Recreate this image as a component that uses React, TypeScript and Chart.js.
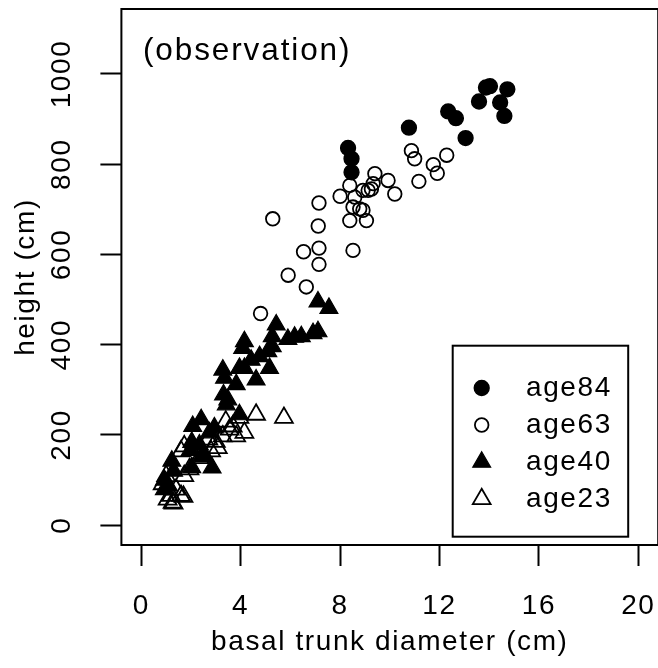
import React, { useEffect, useRef } from 'react';
import { Chart, registerables } from 'chart.js';
import { drawPoint } from 'chart.js/helpers';

Chart.register(...registerables);

// ---------------- data ----------------
const seriesNames = ['age84', 'age63', 'age40', 'age23'];

const age84Diameter = [8.32, 8.46, 8.46, 10.77, 12.35, 12.66, 13.05, 13.59, 13.87, 14.03, 14.73, 14.44, 14.61];
const age84Height = [836, 812, 782, 881, 917, 902, 858, 939, 970, 973, 966, 937, 907];

const age63Diameter = [5.29, 7.15, 7.12, 7.15, 6.53, 7.15, 5.91, 6.64, 4.8, 8.52, 8.39, 9.06, 8.0, 8.52, 8.79, 8.92, 8.39, 8.59, 8.92, 9.13, 9.26, 9.33, 9.4, 9.93, 10.2, 11.17, 10.87, 11.0, 11.75, 11.91, 12.29];
const age63Height = [679, 714, 663, 614, 606, 578, 554, 528, 469, 609, 675, 675, 729, 705, 701, 698, 753, 727, 742, 742, 745, 757, 779, 764, 734, 762, 830, 812, 799, 780, 820];

const age40Diameter = [7.11, 7.55, 7.11, 6.91, 6.44, 6.17, 5.9, 5.43, 5.27, 5.27, 5.09, 5.16, 4.76, 4.62, 4.15, 4.08, 4.42, 3.95, 4.15, 3.28, 3.35, 3.82, 3.31, 3.48, 3.42, 3.95, 2.41, 2.07, 2.94, 2.74, 2.03, 2.34, 1.97, 2.47, 2.85, 2.03, 1.23, 1.3, 0.93, 1.1, 0.93, 2.5];
const age40Height = [495, 481, 429, 425, 418, 417, 412, 444, 418, 396, 385, 348, 374, 322, 407, 392, 366, 348, 348, 344, 326, 312, 289, 278, 267, 245, 234, 219, 216, 205, 184, 178, 166, 155, 127, 128, 142, 120, 100, 87, 79, 159];

const age23Diameter = [4.62, 5.74, 3.95, 3.68, 3.55, 4.15, 3.82, 3.28, 3.08, 2.81, 2.54, 2.34, 1.73, 1.6, 1.94, 1.73, 1.0, 0.86, 1.4, 1.6, 1.2, 1.26, 1.06, 2.7, 3.4, 3.0, 1.3, 1.7];
const age23Height = [245, 238, 238, 219, 212, 205, 197, 197, 171, 164, 153, 149, 175, 164, 124, 109, 109, 91, 79, 65, 65, 50, 57, 190, 230, 185, 48, 63];

const xTicks = [0, 4, 8, 12, 16, 20];
const yTicks = [0, 200, 400, 600, 800, 1000];
const xLimits = [0, 20];
const yLimits = [0, 1100];

const panelLabel = '(observation)';
const xTitle = 'basal trunk diameter (cm)';
const yTitle = 'height (cm)';

// ---------------- style ----------------
const FONT_FAMILY = '"Liberation Sans", Arial, Helvetica, sans-serif';
const FONT_SIZE = 28;
const LETTER_SPACING = '1.6px';
const PANEL_FONT_SIZE = 31.5;
const PANEL_LETTER_SPACING = '1.9px';
const font = { family: FONT_FAMILY, size: FONT_SIZE, lineHeight: 1 };

const expand = (lim: number[]) => {
  const d = (lim[1] - lim[0]) * 0.04;
  return [lim[0] - d, lim[1] + d];
};
const xRange = expand(xLimits);
const yRange = expand(yLimits);

const toPoints = (xs: number[], ys: number[]) => xs.map((x, i) => ({ x, y: ys[i] }));

const markerStyles = [
  { pointStyle: 'circle', radius: 7.4, fill: '#000', border: 1.5 },
  { pointStyle: 'circle', radius: 6.8, fill: 'rgba(0,0,0,0)', border: 1.8 },
  { pointStyle: 'triangle', radius: 10.3, fill: '#000', border: 1.2 },
  { pointStyle: 'triangle', radius: 10.3, fill: 'rgba(0,0,0,0)', border: 1.8 },
];

const seriesData = [
  toPoints(age84Diameter, age84Height),
  toPoints(age63Diameter, age63Height),
  toPoints(age40Diameter, age40Height),
  toPoints(age23Diameter, age23Height),
];

const letterSpacingPlugin = {
  id: 'letterSpacing',
  beforeLayout(chart: any) {
    chart.ctx.letterSpacing = LETTER_SPACING;
  },
  beforeDraw(chart: any) {
    chart.ctx.letterSpacing = LETTER_SPACING;
  },
};

const boxPlugin = {
  id: 'box',
  afterDraw(chart: any) {
    const { ctx, chartArea } = chart;
    const { left, top, right, bottom } = chartArea;
    ctx.save();
    ctx.strokeStyle = '#000';
    ctx.lineWidth = 2;
    ctx.strokeRect(left, top, right - left, bottom - top);

    // panel label
    ctx.letterSpacing = PANEL_LETTER_SPACING;
    ctx.fillStyle = '#000';
    ctx.font = `${PANEL_FONT_SIZE}px ${FONT_FAMILY}`;
    ctx.textAlign = 'left';
    ctx.textBaseline = 'alphabetic';
    ctx.fillText(panelLabel, left + 21.5, top + 51);

    // legend
    ctx.letterSpacing = LETTER_SPACING;
    ctx.font = `${FONT_SIZE}px ${FONT_FAMILY}`;
    const bx0 = right - 205.5;
    const bx1 = right - 30;
    const by0 = bottom - 199.3;
    const by1 = bottom - 8.3;
    ctx.lineWidth = 2;
    ctx.strokeRect(bx0, by0, bx1 - bx0, by1 - by0);
    chart.data.datasets.forEach((ds: any, i: number) => {
      const y = by0 + 42.3 + i * 37;
      ctx.save();
      ctx.fillStyle = ds.pointBackgroundColor;
      ctx.strokeStyle = ds.pointBorderColor;
      ctx.lineWidth = ds.pointBorderWidth;
      drawPoint(ctx, { pointStyle: ds.pointStyle, radius: ds.pointRadius, rotation: 0, borderWidth: ds.pointBorderWidth }, bx0 + 29, y);
      ctx.restore();
      ctx.fillStyle = '#000';
      ctx.textBaseline = 'middle';
      ctx.textAlign = 'left';
      ctx.fillText(ds.label, bx0 + 73.3, y);
    });
    ctx.restore();
  },
};

export default function App() {
  const ref = useRef<HTMLCanvasElement>(null);

  useEffect(() => {
    document.body.style.margin = '0';
    document.body.style.overflow = 'hidden';
    const canvas = ref.current;
    if (!canvas) return;

    const chart = new Chart(canvas, {
      type: 'scatter',
      data: {
        datasets: seriesNames.map((name, i) => ({
          label: name,
          data: seriesData[i],
          showLine: false,
          pointStyle: markerStyles[i].pointStyle as any,
          pointRadius: markerStyles[i].radius,
          pointHoverRadius: markerStyles[i].radius,
          pointBackgroundColor: markerStyles[i].fill,
          pointBorderColor: '#000',
          pointBorderWidth: markerStyles[i].border,
          backgroundColor: markerStyles[i].fill,
          borderColor: '#000',
        })),
      },
      options: {
        animation: false,
        responsive: false,
        devicePixelRatio: 1,
        events: [],
        layout: { autoPadding: false, padding: { left: 0, top: 9, right: 3.8, bottom: 0 } },
        plugins: {
          legend: { display: false },
          tooltip: { enabled: false },
          title: { display: false },
        },
        scales: {
          x: {
            type: 'linear',
            bounds: 'data',
            min: xRange[0],
            max: xRange[1],
            afterBuildTicks: (s: any) => {
              s.ticks = xTicks.map((v) => ({ value: v }));
            },
            afterFit: (s: any) => {
              s.height = 123;
              s.paddingLeft = 0;
              s.paddingRight = 0;
              s.paddingTop = 0;
              s.paddingBottom = 0;
            },
            ticks: {
              font,
              color: '#000',
              padding: 26,
              minRotation: 0,
              maxRotation: 0,
              autoSkip: false,
              callback: (v: any) => String(v),
            },
            grid: {
              display: true,
              drawOnChartArea: false,
              drawTicks: true,
              tickLength: 21,
              tickWidth: 2,
              tickColor: '#000',
            },
            border: { display: false },
            title: {
              display: true,
              text: xTitle,
              font,
              color: '#000',
              padding: { top: 0, bottom: 12 },
            },
          },
          y: {
            type: 'linear',
            bounds: 'data',
            min: yRange[0],
            max: yRange[1],
            afterBuildTicks: (s: any) => {
              s.ticks = yTicks.map((v) => ({ value: v }));
            },
            afterFit: (s: any) => {
              s.width = 121.4;
              s.paddingLeft = 0;
              s.paddingRight = 0;
              s.paddingTop = 0;
              s.paddingBottom = 0;
            },
            ticks: {
              font,
              color: '#000',
              padding: 3.6,
              minRotation: 90,
              maxRotation: 90,
              crossAlign: 'center',
              autoSkip: false,
              callback: (v: any) => String(v),
            },
            grid: {
              display: true,
              drawOnChartArea: false,
              drawTicks: true,
              tickLength: 21,
              tickWidth: 2,
              tickColor: '#000',
            },
            border: { display: false },
            title: {
              display: true,
              text: yTitle,
              font,
              color: '#000',
              padding: { top: 12, bottom: 0 },
            },
          },
        },
      } as any,
      plugins: [letterSpacingPlugin, boxPlugin],
    });

    return () => chart.destroy();
  }, []);

  return (
    <div
      style={{
        position: 'fixed',
        left: 0,
        top: 0,
        width: 658,
        height: 668,
        overflow: 'hidden',
        background: '#fff',
      }}
    >
      <canvas ref={ref} width={662} height={668} style={{ display: 'block', width: 662, height: 668 }} />
    </div>
  );
}
